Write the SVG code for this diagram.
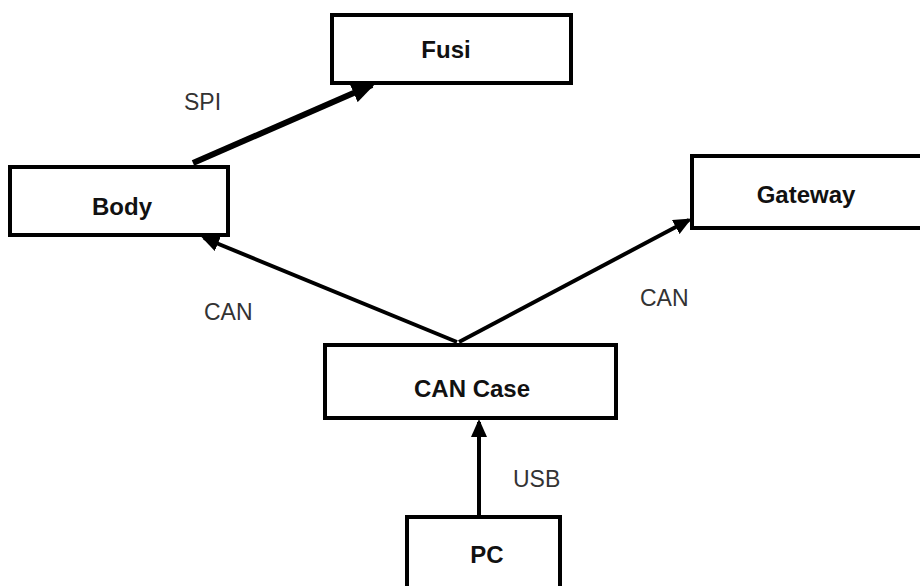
<svg xmlns="http://www.w3.org/2000/svg" width="920" height="586" viewBox="0 0 920 586">
<style>
.box{fill:#fff;stroke:#000;stroke-width:4}
.name{font-family:"Liberation Sans",Arial,sans-serif;font-weight:bold;font-size:24px;fill:#111;text-anchor:middle}
.lbl{font-family:"Liberation Sans",Arial,sans-serif;font-size:23px;fill:#333}
.conn{stroke:#000;fill:none}
</style>
<defs>
<marker id="head" markerUnits="userSpaceOnUse" markerWidth="18" markerHeight="16" refX="15" refY="8" orient="auto">
<path d="M0,0 L18,8 L0,16 z" fill="#000"/>
</marker>
<marker id="headBig" markerUnits="userSpaceOnUse" markerWidth="24" markerHeight="20" refX="20" refY="10" orient="auto">
<path d="M0,0 L24,10 L0,20 z" fill="#000"/>
</marker>
</defs>
<rect width="920" height="586" fill="#fff"/>
<g id="connectors">
<line class="conn" x1="193" y1="163" x2="372" y2="85" stroke-width="6" marker-end="url(#headBig)"/>
<line class="conn" x1="457" y1="342" x2="204" y2="238" stroke-width="4" marker-end="url(#head)"/>
<line class="conn" x1="459" y1="342" x2="689" y2="220" stroke-width="4" marker-end="url(#head)"/>
<line class="conn" x1="479" y1="516" x2="479" y2="422" stroke-width="4" marker-end="url(#head)"/>
</g>
<g id="labels">
<text class="lbl" x="184" y="110">SPI</text>
<text class="lbl" x="204" y="320">CAN</text>
<text class="lbl" x="640" y="306">CAN</text>
<text class="lbl" x="513" y="487">USB</text>
</g>
<g id="fusi">
<rect class="box" x="332" y="15" width="239" height="68"/>
<text class="name" x="446" y="58">Fusi</text>
</g>
<g id="body">
<rect class="box" x="10" y="167" width="218" height="68"/>
<text class="name" x="122" y="215">Body</text>
</g>
<g id="gateway">
<rect class="box" x="692" y="156" width="240" height="72"/>
<text class="name" x="806" y="203">Gateway</text>
</g>
<g id="cancase">
<rect class="box" x="325" y="345" width="291" height="73"/>
<text class="name" x="472" y="397">CAN Case</text>
</g>
<g id="pc">
<rect class="box" x="407" y="517" width="153" height="100"/>
<text class="name" x="487" y="563">PC</text>
</g>
</svg>
